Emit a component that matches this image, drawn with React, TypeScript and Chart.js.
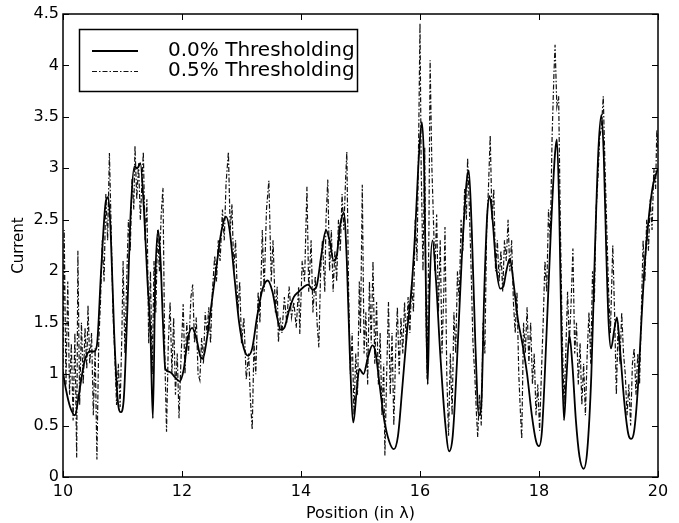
import React, { useEffect, useRef } from "react";
import { Chart, registerables } from "chart.js";

Chart.register(...registerables);

// Solid curve: 0.0% thresholding
const solidX = [
  10.0, 10.05, 10.12, 10.2, 10.28, 10.36, 10.45, 10.52, 10.57, 10.64, 10.72, 10.76, 10.8, 10.86, 10.92, 10.97,
  11.02, 11.08, 11.14, 11.2, 11.25, 11.3, 11.36, 11.42, 11.47, 11.51, 11.55, 11.6, 11.64, 11.68, 11.72, 11.8,
  11.88, 11.96, 12.03, 12.1, 12.17, 12.24, 12.31, 12.35, 12.42, 12.5, 12.58, 12.66, 12.74, 12.8, 12.88, 12.96,
  13.04, 13.11, 13.18, 13.26, 13.35, 13.44, 13.52, 13.6, 13.66, 13.72, 13.8, 13.88, 13.96, 14.05, 14.12, 14.2,
  14.26, 14.34, 14.42, 14.48, 14.55, 14.6, 14.66, 14.72, 14.77, 14.82, 14.88, 14.93, 14.98, 15.05, 15.12, 15.2,
  15.25, 15.32, 15.4, 15.48, 15.56, 15.63, 15.7, 15.78, 15.86, 15.92, 15.98, 16.03, 16.07, 16.1, 16.13, 16.16,
  16.21, 16.27, 16.34, 16.42, 16.49, 16.55, 16.62, 16.7, 16.78, 16.82, 16.87, 16.93, 16.99, 17.03, 17.08, 17.13,
  17.17, 17.22, 17.28, 17.35, 17.4, 17.45, 17.51, 17.57, 17.64, 17.72, 17.8, 17.88, 17.95, 18.0, 18.05, 18.12,
  18.2, 18.27, 18.3, 18.34, 18.38, 18.42, 18.46, 18.51, 18.56, 18.62, 18.68, 18.75, 18.81, 18.88, 18.94, 19.0,
  19.05, 19.09, 19.13, 19.17, 19.21, 19.27, 19.31, 19.36, 19.43, 19.5, 19.55, 19.6, 19.66, 19.72, 19.78, 19.85,
  19.92, 20.0,
];
const solidY = [
  1.02, 0.85, 0.68, 0.6, 0.85, 1.12, 1.22, 1.22, 1.28, 2.0, 2.68, 2.72, 2.4, 1.4, 0.75, 0.63,
  0.75, 1.6, 2.6, 3.02, 3.0, 3.05, 2.6, 1.9, 1.4, 0.57, 1.9, 2.4, 2.1, 1.5, 1.05, 1.02,
  0.97, 0.93, 1.05, 1.35, 1.45, 1.35, 1.17, 1.15, 1.35, 1.7, 2.05, 2.38, 2.53, 2.4, 1.95, 1.5,
  1.25, 1.18, 1.25, 1.55, 1.82, 1.91, 1.8, 1.55, 1.43, 1.45, 1.62, 1.75, 1.8, 1.85, 1.87, 1.82,
  1.85, 2.15, 2.4, 2.3, 2.1, 2.15, 2.45, 2.57, 2.1, 1.2, 0.53, 0.8, 1.05, 1.0, 1.15, 1.28,
  1.22, 0.9, 0.55, 0.35, 0.27, 0.4, 0.85, 1.4, 1.85, 2.4, 3.1, 3.45, 3.0, 1.8, 0.9, 1.8,
  2.3, 1.9, 1.2, 0.55, 0.25, 0.4, 1.1, 2.1, 2.85, 2.98, 2.4, 1.3, 0.6, 0.7, 1.8, 2.55,
  2.73, 2.5, 2.05, 1.83, 1.85, 2.0, 2.12, 1.9, 1.55, 1.3, 1.0, 0.6, 0.35, 0.3, 0.45, 1.3,
  2.4, 3.15, 3.28, 2.6, 1.3, 0.55, 0.95, 1.38, 1.1, 0.55, 0.2, 0.08, 0.25, 1.0, 2.2, 3.2,
  3.52, 3.1, 2.2, 1.5, 1.25, 1.45, 1.55, 1.25, 0.75, 0.42, 0.37, 0.45, 0.85, 1.5, 2.1, 2.55,
  2.85, 3.0,
];

// Dash-dot curve: 0.5% thresholding
const dashX = [
  10.0, 10.02, 10.05, 10.08, 10.11, 10.14, 10.17, 10.2, 10.23, 10.25, 10.28, 10.31, 10.34, 10.37, 10.4, 10.42,
  10.45, 10.48, 10.51, 10.54, 10.57, 10.6, 10.63, 10.66, 10.69, 10.72, 10.75, 10.78, 10.81, 10.84, 10.87, 10.9,
  10.93, 10.96, 10.99, 11.01, 11.04, 11.07, 11.1, 11.13, 11.16, 11.19, 11.21, 11.24, 11.27, 11.3, 11.33, 11.35,
  11.38, 11.41, 11.44, 11.47, 11.5, 11.53, 11.56, 11.59, 11.62, 11.65, 11.68, 11.71, 11.74, 11.77, 11.8, 11.83,
  11.86, 11.89, 11.92, 11.95, 11.98, 12.02, 12.05, 12.08, 12.11, 12.15, 12.18, 12.21, 12.24, 12.27, 12.3, 12.33,
  12.36, 12.39, 12.42, 12.45, 12.48, 12.51, 12.55, 12.58, 12.61, 12.64, 12.68, 12.71, 12.74, 12.78, 12.81, 12.84,
  12.87, 12.9, 12.94, 12.97, 13.0, 13.04, 13.08, 13.12, 13.15, 13.18, 13.21, 13.24, 13.28, 13.31, 13.35, 13.38,
  13.42, 13.46, 13.5, 13.53, 13.57, 13.6, 13.62, 13.65, 13.68, 13.72, 13.76, 13.8, 13.84, 13.88, 13.92, 13.96,
  13.98, 14.02, 14.06, 14.1, 14.13, 14.17, 14.2, 14.24, 14.27, 14.3, 14.33, 14.36, 14.4, 14.42, 14.45, 14.48,
  14.51, 14.54, 14.57, 14.6, 14.63, 14.66, 14.69, 14.72, 14.75, 14.77, 14.8, 14.83, 14.86, 14.89, 14.92, 14.95,
  14.98, 15.0, 15.03, 15.06, 15.09, 15.12, 15.15, 15.18, 15.21, 15.24, 15.27, 15.3, 15.33, 15.36, 15.39, 15.41,
  15.44, 15.47, 15.5, 15.53, 15.56, 15.59, 15.62, 15.65, 15.68, 15.71, 15.74, 15.77, 15.8, 15.83, 15.86, 15.89,
  15.92, 15.95, 15.98, 16.0, 16.02, 16.05, 16.08, 16.1, 16.12, 16.15, 16.17, 16.2, 16.22, 16.25, 16.28, 16.31,
  16.34, 16.37, 16.4, 16.42, 16.45, 16.48, 16.51, 16.54, 16.57, 16.6, 16.63, 16.66, 16.69, 16.72, 16.75, 16.78,
  16.8, 16.83, 16.86, 16.89, 16.92, 16.95, 16.97, 17.0, 17.03, 17.06, 17.09, 17.12, 17.15, 17.18, 17.21, 17.24,
  17.27, 17.3, 17.33, 17.36, 17.39, 17.42, 17.45, 17.48, 17.51, 17.54, 17.57, 17.6, 17.63, 17.66, 17.69, 17.71,
  17.74, 17.77, 17.8, 17.83, 17.86, 17.89, 17.92, 17.95, 17.98, 18.01, 18.04, 18.07, 18.1, 18.13, 18.16, 18.19,
  18.22, 18.25, 18.27, 18.3, 18.33, 18.36, 18.39, 18.42, 18.45, 18.48, 18.51, 18.54, 18.57, 18.6, 18.63, 18.66,
  18.69, 18.72, 18.75, 18.78, 18.81, 18.84, 18.87, 18.9, 18.93, 18.96, 18.99, 19.02, 19.05, 19.08, 19.11, 19.14,
  19.17, 19.2, 19.24, 19.27, 19.3, 19.33, 19.36, 19.39, 19.42, 19.45, 19.48, 19.51, 19.54, 19.57, 19.6, 19.63,
  19.66, 19.69, 19.72, 19.75, 19.78, 19.81, 19.84, 19.87, 19.9, 19.93, 19.96, 19.98, 20.0,
];
const dashY = [
  1.0, 2.4, 0.9, 1.9, 0.8, 1.3, 0.55, 1.4, 0.19, 2.2, 0.7, 1.5, 0.9, 1.45, 1.05, 1.67,
  1.1, 1.4, 0.6, 1.25, 0.17, 1.3, 1.7, 2.3, 1.9, 2.75, 2.3, 3.15, 2.4, 1.6, 1.2, 0.7,
  1.1, 0.68, 1.4, 2.1, 1.2, 1.9, 2.5, 2.2, 2.9, 2.6, 3.22, 2.7, 3.05, 2.5, 2.9, 3.16,
  2.3, 2.7, 1.3, 2.0, 1.0, 2.1, 1.6, 2.4, 2.0, 2.55, 2.81, 1.2, 0.44, 1.3, 1.7, 1.0,
  1.55, 0.8, 1.2, 0.57, 1.1, 1.68, 1.0, 1.5, 1.2, 1.75, 1.87, 1.3, 1.55, 1.0, 0.94, 1.35,
  1.1, 1.6, 1.4, 1.65, 1.3, 1.8, 2.15, 1.9, 2.3, 2.1, 2.6, 2.3, 2.85, 3.16, 2.4, 2.65,
  2.0, 2.3, 1.6, 1.9, 1.3, 1.55, 0.95, 1.2, 0.75, 0.46, 1.3, 1.0, 1.8, 1.5, 2.4, 1.8,
  2.6, 2.88, 1.9, 2.3, 1.6, 1.85, 1.31, 1.55, 1.4, 1.75, 1.5, 1.85, 1.55, 1.7, 1.45, 1.85,
  1.39, 2.1, 1.9, 2.82, 1.8, 2.3, 1.6, 1.95, 1.5, 1.26, 2.0, 2.3, 1.8, 2.5, 2.89, 2.0,
  2.4, 1.8, 2.2, 1.9, 2.5, 2.2, 2.75, 2.4, 2.9, 3.16, 1.8, 1.0, 1.4, 0.6, 1.2, 0.8,
  1.9, 1.4, 2.84, 1.2, 1.6, 0.9, 1.9, 1.3, 2.1, 1.1, 1.7, 0.9, 1.4, 0.6, 1.1, 0.21,
  1.0, 1.7, 0.8, 1.4, 0.5, 1.2, 1.65, 1.0, 1.55, 1.2, 1.7, 1.3, 1.75, 1.4, 1.9, 1.6,
  2.5, 2.1, 3.4, 4.41, 3.0, 2.0, 3.2, 1.6, 0.95, 2.4, 4.05, 3.0, 2.62, 2.0, 2.55, 1.6,
  2.3, 1.2, 1.8, 2.43, 1.0, 0.4, 1.2, 0.6, 1.6, 1.2, 2.0, 1.7, 2.5, 2.2, 2.8, 2.5,
  3.1, 2.6, 2.0, 1.3, 1.0, 0.6, 0.39, 0.8, 0.5, 1.5, 1.2, 2.4, 2.8, 3.32, 2.5, 2.8,
  2.0, 2.3, 1.9, 2.2, 1.8, 2.3, 2.1, 2.5, 2.0, 2.3, 1.7, 1.4, 1.8, 1.0, 0.6, 0.37,
  1.5, 1.2, 1.65, 1.1, 1.5, 0.9, 1.2, 0.6, 0.9, 0.45, 1.0, 1.5, 2.1, 1.8, 2.6, 2.3,
  3.3, 3.9, 4.2, 3.6, 3.7, 2.4, 1.4, 0.7, 1.2, 1.8, 1.3, 1.7, 2.22, 1.2, 1.5, 0.9,
  1.3, 0.7, 1.1, 0.6, 1.2, 1.6, 1.1, 2.0, 1.7, 2.6, 2.9, 3.3, 3.4, 3.7, 3.0, 2.4,
  1.8, 1.4, 2.25, 1.6, 0.8, 1.5, 1.1, 1.6, 1.2, 1.0, 0.6, 0.9, 0.5, 1.1, 1.25, 0.8,
  1.2, 0.9, 1.6, 2.3, 1.9, 2.5, 2.2, 2.7, 2.4, 3.0, 2.8, 3.37, 3.2,
];

const seriesLabels = ["0.0% Thresholding", "0.5% Thresholding"];
const xTicks = [10, 12, 14, 16, 18, 20];
const yTicks = [0, 0.5, 1, 1.5, 2, 2.5, 3, 3.5, 4, 4.5];
const yTickLabels = ["0", "0.5", "1", "1.5", "2", "2.5", "3", "3.5", "4", "4.5"];
const xTickLabels = ["10", "12", "14", "16", "18", "20"];

const FONT = "'DejaVu Sans', 'Liberation Sans', Arial, sans-serif";
const DASH = [5, 2, 1.5, 2];

const framePlugin = {
  id: "frame",
  afterDatasetsDraw(chart: any) {
    const { ctx, chartArea } = chart;
    const { left, right, top, bottom } = chartArea;
    const xs = chart.scales.x;
    const ys = chart.scales.y;
    ctx.save();
    ctx.strokeStyle = "#000";
    ctx.lineWidth = 1.5;
    ctx.strokeRect(left, top, right - left, bottom - top);
    ctx.lineWidth = 1;
    const tl = 6;
    ctx.beginPath();
    for (const v of xTicks) {
      const px = Math.round(xs.getPixelForValue(v)) + 0.5;
      ctx.moveTo(px, bottom);
      ctx.lineTo(px, bottom - tl);
      ctx.moveTo(px, top);
      ctx.lineTo(px, top + tl);
    }
    for (const v of yTicks) {
      const py = Math.round(ys.getPixelForValue(v)) + 0.5;
      ctx.moveTo(left, py);
      ctx.lineTo(left + tl, py);
      ctx.moveTo(right, py);
      ctx.lineTo(right - tl, py);
    }
    ctx.stroke();

    // legend
    const lx = 79.5, ly = 29.5, lw = 278, lh = 62;
    ctx.fillStyle = "#fff";
    ctx.fillRect(lx, ly, lw, lh);
    ctx.lineWidth = 1.5;
    ctx.strokeRect(lx, ly, lw, lh);
    const rows = [51, 71];
    ctx.strokeStyle = "#000";
    ctx.lineWidth = 1.8;
    ctx.setLineDash([]);
    ctx.beginPath();
    ctx.moveTo(92, rows[0]);
    ctx.lineTo(138, rows[0]);
    ctx.stroke();
    ctx.lineWidth = 1.2;
    ctx.strokeStyle = "#111";
    ctx.setLineDash(DASH);
    ctx.beginPath();
    ctx.moveTo(92, rows[1] + 0.5);
    ctx.lineTo(138, rows[1] + 0.5);
    ctx.stroke();
    ctx.setLineDash([]);
    ctx.fillStyle = "#000";
    ctx.font = `20px ${FONT}`;
    ctx.textBaseline = "middle";
    ctx.textAlign = "left";
    ctx.fillText(seriesLabels[0], 168, rows[0]);
    ctx.fillText(seriesLabels[1], 168, rows[1]);
    ctx.restore();
  },
};

export default function App() {
  const ref = useRef<HTMLCanvasElement | null>(null);
  useEffect(() => {
    document.body.style.margin = "0";
    const canvas = ref.current;
    if (!canvas) return;
    const solid = solidX.map((x, i) => ({ x, y: solidY[i] }));
    const dash = dashX.map((x, i) => ({ x, y: dashY[i] }));
    const chart = new Chart(canvas, {
      type: "line",
      data: {
        datasets: [
          {
            label: seriesLabels[0],
            data: solid,
            borderColor: "#000",
            borderWidth: 1.8,
            pointRadius: 0,
            cubicInterpolationMode: "monotone",
            fill: false,
            order: 1,
          },
          {
            label: seriesLabels[1],
            data: dash,
            borderColor: "#111",
            borderWidth: 1.2,
            borderDash: DASH,
            pointRadius: 0,
            tension: 0,
            fill: false,
            order: 2,
          },
        ],
      },
      options: {
        responsive: false,
        animation: false,
        events: [],
        layout: { padding: { left: 0, right: 21, top: 14, bottom: 0 } },
        plugins: { legend: { display: false }, tooltip: { enabled: false } },
        scales: {
          x: {
            type: "linear",
            min: 10,
            max: 20,
            grid: { display: false, drawTicks: false },
            border: { display: false },
            afterFit: (s: any) => {
              s.height = 46;
            },
            afterBuildTicks: (s: any) => {
              s.ticks = xTicks.map((v) => ({ value: v }));
            },
            ticks: {
              color: "#000",
              padding: 5,
              maxRotation: 0,
              font: { family: FONT, size: 16 },
              callback: (v: any) => {
                const i = xTicks.indexOf(Number(v));
                return i >= 0 ? xTickLabels[i] : "";
              },
            },
            title: {
              display: true,
              text: "Position (in λ)",
              color: "#000",
              font: { family: FONT, size: 16 },
              padding: { top: 0, bottom: 0 },
            },
          },
          y: {
            min: 0,
            max: 4.5,
            grid: { display: false, drawTicks: false },
            border: { display: false },
            afterFit: (s: any) => {
              s.width = 63;
            },
            afterBuildTicks: (s: any) => {
              s.ticks = yTicks.map((v) => ({ value: v }));
            },
            ticks: {
              color: "#000",
              padding: 4,
              font: { family: FONT, size: 16 },
              callback: (v: any) => {
                const i = yTicks.indexOf(Number(v));
                return i >= 0 ? yTickLabels[i] : "";
              },
            },
            title: {
              display: true,
              text: "Current",
              color: "#000",
              font: { family: FONT, size: 15 },
              padding: { top: 10, bottom: 0 },
            },
          },
        },
      },
      plugins: [framePlugin],
    });
    return () => chart.destroy();
  }, []);
  return (
    <div style={{ width: 679, height: 523, background: "#fff" }}>
      <canvas ref={ref} width={679} height={523} style={{ display: "block" }} />
    </div>
  );
}
